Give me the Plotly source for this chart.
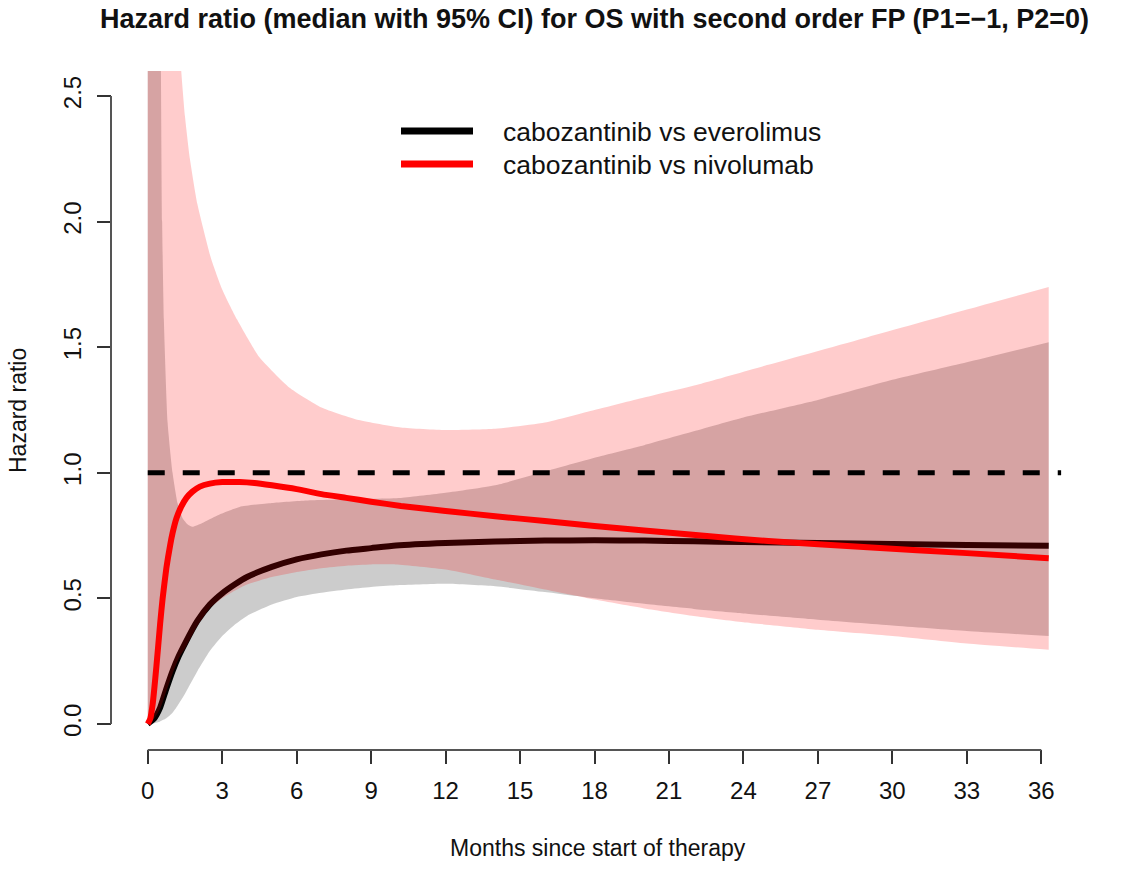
import plotly.graph_objects as go

# ---------------- data ----------------
# cabozantinib vs everolimus: median hazard ratio
eve_t = [0, 0.25, 0.5, 0.75, 1.0, 1.25, 1.5, 2.0, 2.5, 3.0, 3.5, 4.0, 5.0, 6.0, 7.0,
         8.0, 9.0, 10.0, 12.0, 14.0, 16.0, 18.0, 20.0, 22.0, 24.0, 27.0, 30.0, 33.0, 36.3]
eve_med = [0, 0.02, 0.065, 0.14, 0.21, 0.27, 0.32, 0.41, 0.475, 0.52, 0.555, 0.585, 0.625, 0.655, 0.675,
           0.69, 0.70, 0.71, 0.72, 0.726, 0.73, 0.731, 0.73, 0.727, 0.724, 0.72, 0.716, 0.712, 0.709]
# everolimus 95% CI lower bound
eve_lo_t = [0, 0.25, 0.5, 0.75, 1.0, 1.25, 1.5, 2.0, 2.5, 3.0, 3.5, 4.0, 5.0, 6.0, 7.0,
            8.0, 9.0, 10.0, 12.0, 14.0, 16.0, 18.0, 20.0, 22.0, 24.0, 27.0, 30.0, 33.0, 36.3]
eve_lo = [0, 0.003, 0.01, 0.022, 0.044, 0.08, 0.12, 0.21, 0.29, 0.35, 0.395, 0.43, 0.475, 0.505, 0.522,
          0.535, 0.545, 0.552, 0.558, 0.548, 0.525, 0.50, 0.478, 0.458, 0.44, 0.415, 0.392, 0.37, 0.35]
# everolimus 95% CI upper bound (values above the plotted range are clipped)
eve_hi_t = [0, 0.45, 0.52, 0.58, 0.65, 0.8, 1.0, 1.2, 1.4, 1.6, 1.8, 2.2, 2.8, 3.7,
            5.0, 6.4, 8.0, 10.2, 12.0, 14.0, 16.0, 18.0, 20.0, 22.0, 24.0, 27.0, 30.0, 33.0, 36.3]
eve_hi = [3.0, 3.0, 2.7, 2.0, 1.61, 1.2, 1.0, 0.88, 0.82, 0.795, 0.785, 0.80, 0.83, 0.864,
          0.88, 0.89, 0.895, 0.90, 0.92, 0.95, 1.005, 1.06, 1.11, 1.165, 1.22, 1.29, 1.37, 1.44, 1.52]

# cabozantinib vs nivolumab: median hazard ratio
niv_t = [0, 0.1, 0.2, 0.35, 0.5, 0.6, 0.75, 0.9, 1.0, 1.16, 1.35, 1.56, 1.8, 2.1, 2.5, 3.0,
         3.7, 4.3, 5.0, 6.0, 7.0, 8.0, 9.0, 10.2, 12.0, 14.0, 16.0, 18.0, 20.0, 22.3, 25.0, 29.0, 33.0, 36.3]
niv_med = [0, 0.02, 0.08, 0.23, 0.40, 0.50, 0.62, 0.71, 0.76, 0.82, 0.865, 0.90, 0.925, 0.945, 0.957, 0.963,
           0.963, 0.959, 0.95, 0.935, 0.915, 0.90, 0.885, 0.868, 0.848, 0.827, 0.808, 0.788, 0.77, 0.75,
           0.728, 0.703, 0.68, 0.66]
# nivolumab 95% CI lower bound
niv_lo_t = [0, 0.25, 0.5, 0.75, 1.0, 1.25, 1.5, 2.0, 2.5, 3.0, 3.5, 4.0, 5.0, 6.0, 7.0,
            8.0, 9.0, 10.0, 12.0, 14.0, 16.0, 18.0, 20.0, 22.0, 24.0, 27.0, 30.0, 33.0, 36.3]
niv_lo = [0, 0.02, 0.06, 0.13, 0.20, 0.26, 0.30, 0.39, 0.46, 0.50, 0.53, 0.555, 0.585, 0.605, 0.62,
          0.63, 0.635, 0.635, 0.615, 0.575, 0.535, 0.495, 0.46, 0.43, 0.405, 0.375, 0.35, 0.32, 0.295]
# nivolumab 95% CI upper bound (values above the plotted range are clipped)
niv_hi_t = [0, 1.0, 1.2, 1.35, 1.5, 1.7, 2.0, 2.56, 3.0, 3.6, 4.5, 5.7, 7.0, 8.5, 10.2,
            12.0, 14.0, 16.0, 18.0, 20.0, 22.3, 25.0, 29.0, 33.0, 36.3]
niv_hi = [3.0, 3.0, 2.85, 2.6, 2.42, 2.25, 2.07, 1.85, 1.73, 1.61, 1.46, 1.34, 1.26, 1.21, 1.18,
          1.17, 1.175, 1.20, 1.25, 1.30, 1.355, 1.43, 1.54, 1.65, 1.74]

# reference line HR = 1
ref_t = [0, 36.8]
ref_hr = [1, 1]

x_ticks = [0, 3, 6, 9, 12, 15, 18, 21, 24, 27, 30, 33, 36]
y_ticks = [0.0, 0.5, 1.0, 1.5, 2.0, 2.5]
series_names = ["cabozantinib vs everolimus", "cabozantinib vs nivolumab"]

# ---------------- layout geometry (page pixels) ----------------
W, H = 1128, 871
L, R, T, B = 112, 51, 71, 122
PW, PH = W - L - R, H - T - B


def px(xp):
    return (xp - L) / PW


def py(yp):
    return (H - B - yp) / PH


FONT = "Liberation Sans, Arial, Helvetica, sans-serif"
GRAY_FILL = "rgba(0,0,0,0.2)"
RED_FILL = "rgba(255,0,0,0.2)"
SM = 0.5

fig = go.Figure()
# everolimus CI band
fig.add_trace(go.Scatter(x=eve_lo_t, y=eve_lo, mode="lines", line=dict(width=0, color=GRAY_FILL, shape="spline", smoothing=SM),
                         showlegend=False, hoverinfo="skip"))
fig.add_trace(go.Scatter(x=eve_hi_t, y=eve_hi, mode="lines", line=dict(width=0, color=GRAY_FILL, shape="spline", smoothing=SM),
                         fill="tonexty", fillcolor=GRAY_FILL, showlegend=False, hoverinfo="skip"))
# everolimus median
fig.add_trace(go.Scatter(x=eve_t, y=eve_med, mode="lines", name=series_names[0],
                         line=dict(color="black", width=6, shape="spline", smoothing=SM), showlegend=False))
# nivolumab CI band
fig.add_trace(go.Scatter(x=niv_lo_t, y=niv_lo, mode="lines", line=dict(width=0, color=RED_FILL, shape="spline", smoothing=SM),
                         showlegend=False, hoverinfo="skip"))
fig.add_trace(go.Scatter(x=niv_hi_t, y=niv_hi, mode="lines", line=dict(width=0, color=RED_FILL, shape="spline", smoothing=SM),
                         fill="tonexty", fillcolor=RED_FILL, showlegend=False, hoverinfo="skip"))
# nivolumab median
fig.add_trace(go.Scatter(x=niv_t, y=niv_med, mode="lines", name=series_names[1],
                         line=dict(color="#FF0000", width=6, shape="spline", smoothing=SM), showlegend=False))
# reference line
fig.add_trace(go.Scatter(x=ref_t, y=ref_hr, mode="lines", line=dict(color="black", width=5, dash="17px,18px"),
                         showlegend=False, hoverinfo="skip"))

shapes = [
    # axis lines spanning first to last tick (R style)
    dict(type="line", xref="paper", yref="y", x0=px(111), x1=px(111), y0=y_ticks[0], y1=y_ticks[-1],
         line=dict(color="#555555", width=2)),
    dict(type="line", xref="x", yref="paper", x0=x_ticks[0], x1=x_ticks[-1], y0=py(750), y1=py(750),
         line=dict(color="#555555", width=2)),
    # legend keys
    dict(type="line", xref="paper", yref="paper", x0=px(401), x1=px(473), y0=py(131), y1=py(131),
         line=dict(color="black", width=7)),
    dict(type="line", xref="paper", yref="paper", x0=px(401), x1=px(473), y0=py(164), y1=py(164),
         line=dict(color="#FF0000", width=7)),
]

annotations = [
    dict(text=series_names[0], xref="paper", yref="paper", x=px(501), y=py(132), xanchor="left", yanchor="middle",
         showarrow=False, font=dict(family=FONT, size=26.5, color="#111111")),
    dict(text=series_names[1], xref="paper", yref="paper", x=px(501), y=py(165), xanchor="left", yanchor="middle",
         showarrow=False, font=dict(family=FONT, size=26.5, color="#111111")),
    dict(text="Months since start of therapy", xref="paper", yref="paper", x=px(598), y=py(848),
         xanchor="center", yanchor="middle", showarrow=False, font=dict(family=FONT, size=23, color="#111111")),
    dict(text="Hazard ratio", xref="paper", yref="paper", x=px(18), y=py(411), textangle=-90,
         xanchor="center", yanchor="middle", showarrow=False, font=dict(family=FONT, size=23, color="#111111")),
]

fig.update_layout(
    width=W, height=H,
    margin=dict(l=L, r=R, t=T, b=B),
    paper_bgcolor="white", plot_bgcolor="white",
    showlegend=False,
    title=dict(text="<b>Hazard ratio (median with 95% CI) for OS with second order FP (P1=\u22121, P2=0)</b>",
               x=0.5, xref="paper", xanchor="center", y=1 - 19 / H, yanchor="middle",
               font=dict(family=FONT, size=27, color="#111111")),
    shapes=shapes,
    annotations=annotations,
)
fig.update_xaxes(range=[-1.44, 37.44], tickvals=x_ticks, ticktext=[str(v) for v in x_ticks],
                 showgrid=False, zeroline=False, showline=False,
                 ticks="outside", ticklen=14, tickwidth=1.5, tickcolor="#333333",
                 ticklabelstandoff=6,
                 tickfont=dict(family=FONT, size=24, color="#111111"))
fig.update_yaxes(range=[-0.1, 2.6], tickvals=y_ticks, ticktext=["%.1f" % v for v in y_ticks],
                 showgrid=False, zeroline=False, showline=False,
                 ticks="outside", ticklen=14, tickwidth=1.5, tickcolor="#333333", tickangle=-90,
                 ticklabelstandoff=6,
                 tickfont=dict(family=FONT, size=24, color="#111111"))

# remove the default 8px page margin so the figure fills the window exactly; hide the mode bar
fig.write_html("out.html", config={"displayModeBar": False},
               post_script="document.body.style.margin='0px';document.body.style.overflow='hidden';")
